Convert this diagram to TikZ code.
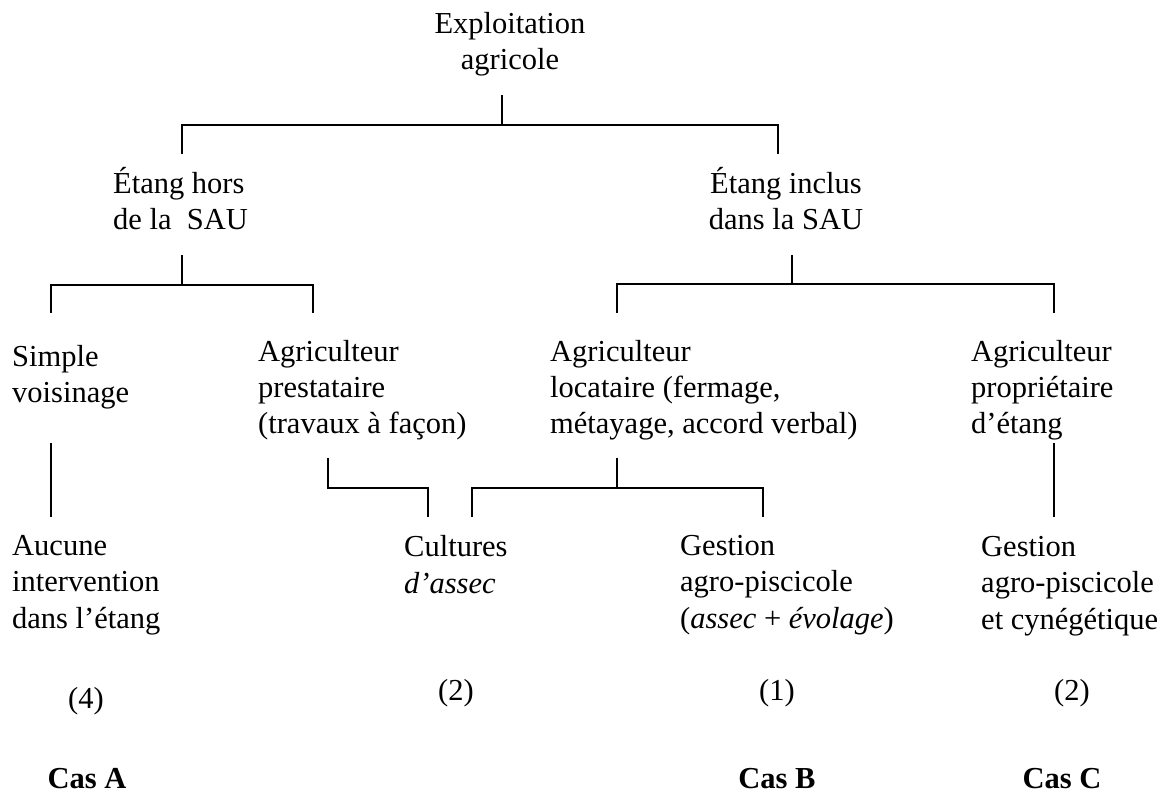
\documentclass[tikz,border=0pt]{standalone}
\usepackage{fontspec}
\setmainfont{Liberation Serif}
\usepackage{tikz}
\usetikzlibrary{calc}

\begin{document}
\begin{tikzpicture}[x=1pt, y=-1pt,
    every node/.style={inner sep=0pt, font=\fontsize{30.5}{36.3}\selectfont},
    lbl/.style={anchor=base west, align=left},
    ctr/.style={anchor=base, align=center},
    cas/.style={ctr, font=\fontsize{30.5}{36.3}\selectfont\bfseries},
    link/.style={line width=1.8pt}]
    \useasboundingbox (0,0) rectangle (1171,794);
    % Level 1 (nodes sit on the baseline of their last line)
    \node[ctr] (expl) at (510,70) {Exploitation\\agricole};
    % Level 2
    \node[lbl] (hors) at (113,230) {Étang hors\\de la\ \ SAU};
    \node[ctr] (inclus) at (786,230) {Étang inclus\\dans la SAU};
    % Level 3
    \node[lbl] (voisin) at (12,403) {Simple\\voisinage};
    \node[lbl] (presta) at (258,434) {Agriculteur\\prestataire\\(travaux à façon)};
    \node[lbl] (loca) at (550,434) {Agriculteur\\locataire (fermage,\\métayage, accord verbal)};
    \node[lbl] (proprio) at (971,434) {Agriculteur\\propriétaire\\d’étang};
    % Level 4
    \node[lbl] (aucune) at (12,628) {Aucune\\intervention\\dans l’étang};
    \node[lbl] (cult) at (404,593) {Cultures\\\textit{d’assec}};
    \node[lbl] (gestB) at (680,628) {Gestion\\agro-piscicole\\(\textit{assec} + \textit{évolage})};
    \node[lbl] (gestC) at (981,629) {Gestion\\agro-piscicole\\et cynégétique};
    % Counts and cases
    \node[ctr] (nA) at (86,708) {(4)};
    \node[ctr] (nCult) at (456,700) {(2)};
    \node[ctr] (nB) at (777,700) {(1)};
    \node[ctr] (nC) at (1072,700) {(2)};
    \node[cas] (casA) at (87,788) {Cas A};
    \node[cas] (casB) at (777,788) {Cas B};
    \node[cas] (casC) at (1062,788) {Cas C};
    % Connector ends
    \coordinate (expl-out) at (502,95);
    \coordinate (bar1) at (502,125);
    \coordinate (hors-in) at (182,154);
    \coordinate (inclus-in) at (778,154);
    \coordinate (hors-out) at (182,255);
    \coordinate (bar2) at (182,285);
    \coordinate (voisin-in) at (51,313);
    \coordinate (presta-in) at (313,313);
    \coordinate (inclus-out) at (792,255);
    \coordinate (bar3) at (792,284);
    \coordinate (loca-in) at (617,313);
    \coordinate (proprio-in) at (1054,313);
    \coordinate (voisin-out) at (51,443);
    \coordinate (aucune-in) at (51,517);
    \coordinate (presta-out) at (328,458);
    \coordinate (cult-inL) at (428,517);
    \coordinate (loca-out) at (617,458);
    \coordinate (bar4) at (617,488);
    \coordinate (cult-inR) at (472,517);
    \coordinate (gestB-in) at (763,517);
    \coordinate (proprio-out) at (1054,443);
    \coordinate (gestC-in) at (1054,517);
    % Connectors
    \draw[link] (expl-out) -- (bar1);
    \draw[link] (hors-in) |- (bar1) -| (inclus-in);
    \draw[link] (hors-out) -- (bar2);
    \draw[link] (voisin-in) |- (bar2) -| (presta-in);
    \draw[link] (inclus-out) -- (bar3);
    \draw[link] (loca-in) |- (bar3) -| (proprio-in);
    \draw[link] (voisin-out) -- (aucune-in);
    \draw[link] (presta-out) -- ++(0,30) -| (cult-inL);
    \draw[link] (loca-out) -- (bar4);
    \draw[link] (cult-inR) |- (bar4) -| (gestB-in);
    \draw[link] (proprio-out) -- (gestC-in);
\end{tikzpicture}
\end{document}
